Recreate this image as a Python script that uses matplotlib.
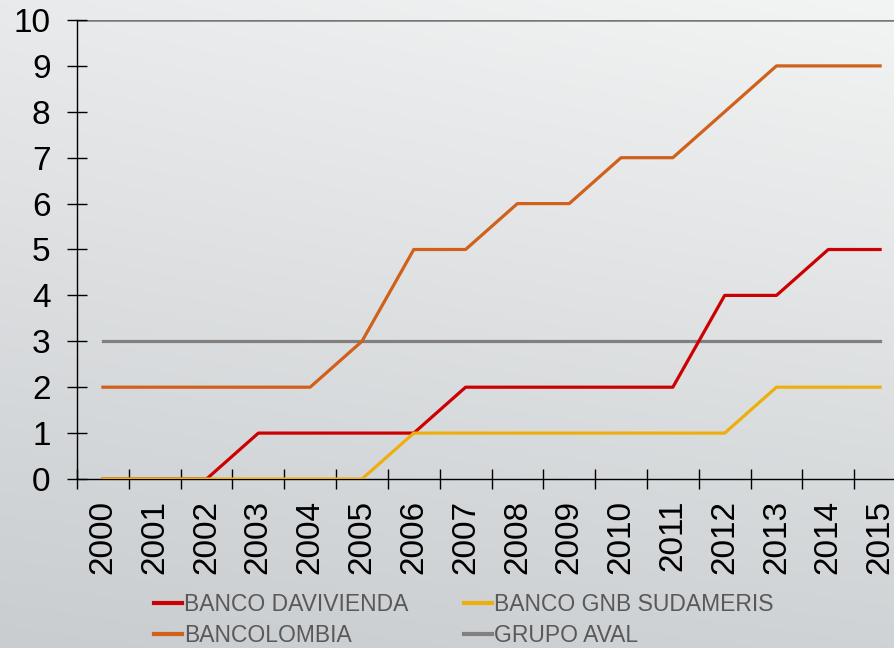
import matplotlib
matplotlib.use("Agg")
import matplotlib.pyplot as plt
import numpy as np

plt.rcParams['font.family'] = ['Liberation Sans', 'DejaVu Sans']

years = [str(y) for y in range(2000, 2016)]
davivienda = [0, 0, 0, 1, 1, 1, 1, 2, 2, 2, 2, 2, 4, 4, 5, 5]
gnb_sudameris = [0, 0, 0, 0, 0, 0, 1, 1, 1, 1, 1, 1, 1, 2, 2, 2]
bancolombia = [2, 2, 2, 2, 2, 3, 5, 5, 6, 6, 7, 7, 8, 9, 9, 9]
grupo_aval = [3] * 16
y_ticks = list(range(0, 11))

fig = plt.figure(figsize=(8.94, 6.48), dpi=100)

# background gradient
bg = fig.add_axes([0, 0, 1, 1], zorder=-10)
h, w = 200, 280
yy, xx = np.mgrid[0:1:h*1j, 0:1:w*1j]
c_tl = np.array([0.914, 0.918, 0.922])
c_tr = np.array([0.953, 0.957, 0.957])
c_bl = np.array([0.788, 0.804, 0.816])
c_br = np.array([0.812, 0.827, 0.835])
top = c_tl[None, None, :] * (1 - xx[..., None]) + c_tr[None, None, :] * xx[..., None]
bot = c_bl[None, None, :] * (1 - xx[..., None]) + c_br[None, None, :] * xx[..., None]
img = top * (1 - yy[..., None]) + bot * yy[..., None]
bg.imshow(img, aspect='auto', extent=[0, 1, 0, 1], origin='upper')
bg.axis('off')

ax = fig.add_axes([77/894, 1 - 479/648, 829/894, 459/648])
ax.patch.set_alpha(0)

x = np.arange(len(years))
l1, = ax.plot(x, davivienda, color='#cc0000', lw=2.3, label='BANCO DAVIVIENDA', zorder=3)
l3, = ax.plot(x, gnb_sudameris, color='#eeae0e', lw=2.3, label='BANCO GNB SUDAMERIS', zorder=4)
l2, = ax.plot(x, bancolombia, color='#d0601a', lw=2.3, label='BANCOLOMBIA', zorder=3)
l4, = ax.plot(x, grupo_aval, color='#808080', lw=2.3, label='GRUPO AVAL', zorder=2)

ax.set_xlim(-0.5, len(years) - 0.5)
ax.set_ylim(0, 10)
ax.axhline(10, color='#777777', lw=1.8, zorder=1)

for s in ['top', 'right']:
    ax.spines[s].set_visible(False)
for s in ['left', 'bottom']:
    ax.spines[s].set_color('black')
    ax.spines[s].set_linewidth(1.0)

ax.set_yticks(y_ticks)
ax.tick_params(axis='y', direction='inout', length=14, width=1.0, pad=12,
               labelsize=24, colors='black')
ax.set_xticks(x)
ax.set_xticklabels(years, rotation=90)
ax.set_xticks(np.arange(-0.5, len(years), 1.0), minor=True)
ax.tick_params(axis='x', which='major', length=0, pad=15, labelsize=24)
ax.tick_params(axis='x', which='minor', direction='inout', length=14, width=1.0)

leg = fig.legend(handles=[l1, l2, l3, l4], ncol=2, loc='upper left',
                 bbox_to_anchor=(145/894, 1 - 584/648), frameon=False, fontsize=16.5,
                 handlelength=1.22, handletextpad=0.1, columnspacing=2.4,
                 labelspacing=0.35, borderaxespad=0.0)
for t_ in leg.get_texts():
    t_.set_color('#595959')
for ln in leg.get_lines():
    ln.set_linewidth(3.0)

fig.savefig('out.png', dpi=100)
